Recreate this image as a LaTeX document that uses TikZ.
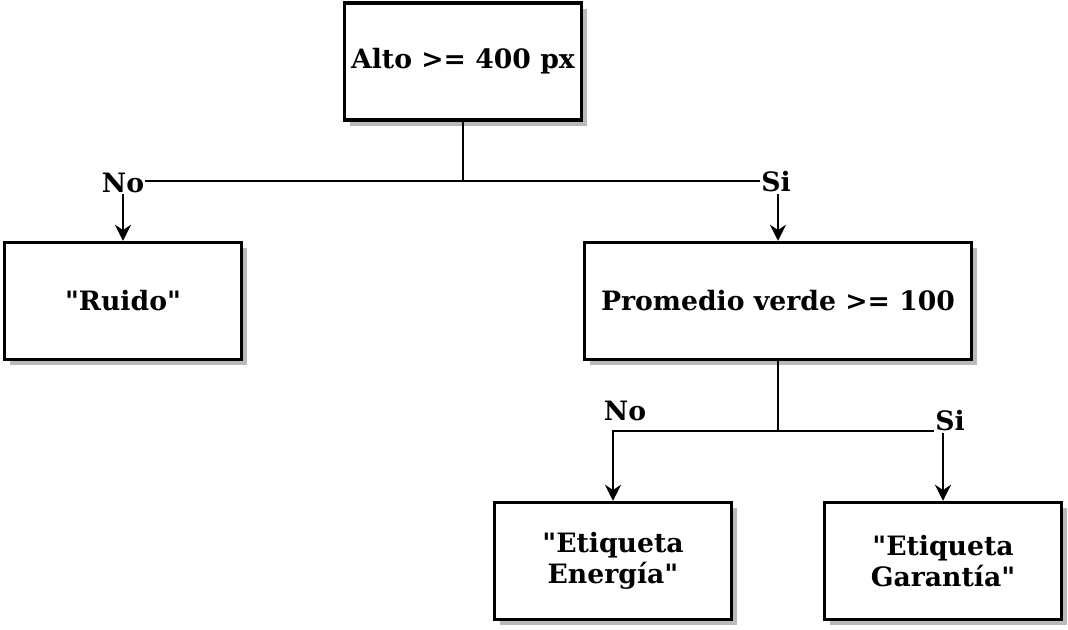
\documentclass[tikz,border=0pt]{standalone}
\usepackage{fontspec}
\setmainfont{DejaVu Serif}[Ligatures=TeXOff]
\usetikzlibrary{arrows.meta,shadows}
\begin{document}
\begin{tikzpicture}[x=0.75pt,y=-0.75pt,
  box/.style={draw, line width=2.6pt, fill=white, minimum width=177.75pt, minimum height=87.75pt,
    align=center, font=\fontsize{20}{23}\selectfont\bfseries, inner sep=0pt,
    drop shadow={shadow xshift=4.2pt, shadow yshift=-4.2pt, fill=black!27, opacity=1}},
  wide/.style={minimum width=290.25pt},
  conn/.style={line width=1.4pt},
  arr/.style={conn, -{Stealth[length=12pt, width=12pt, inset=4pt]}},
  lab/.style={fill=white, inner sep=1pt, font=\fontsize{20}{23}\selectfont\bfseries}]
\useasboundingbox (0,0) rectangle (1068,630);
\node[box] (A) at (463,61.5) {Alto >= 400 px};
\node[box] (R) at (123,301) {"Ruido"};
\node[box, wide] (P) at (778,301) {Promedio verde >= 100};
\node[box] (E) at (613,561) {"Etiqueta\\Energía"};
\node[box] (G) at (943,561) {"Etiqueta\\Garantía"};
\coordinate (j1) at (463,181);
\coordinate (j2) at (778,431);
\draw[conn] (A.south) -- (j1);
\draw[arr] (j1) -| node[lab, pos=0.5, yshift=-1.5pt] {No} (R.north);
\draw[arr] (j1) -| node[lab, pos=0.5, xshift=-1.5pt, yshift=-0.75pt] {Si} (P.north);
\draw[conn] (P.south) -- (j2);
\draw[arr] (j2) -| node[pos=0.5, lab, fill=none, xshift=9pt, yshift=15pt] {No} (E.north);
\draw[arr] (j2) -| node[pos=0.5, lab, xshift=5.25pt, yshift=7.5pt] {Si} (G.north);
\end{tikzpicture}
\end{document}
